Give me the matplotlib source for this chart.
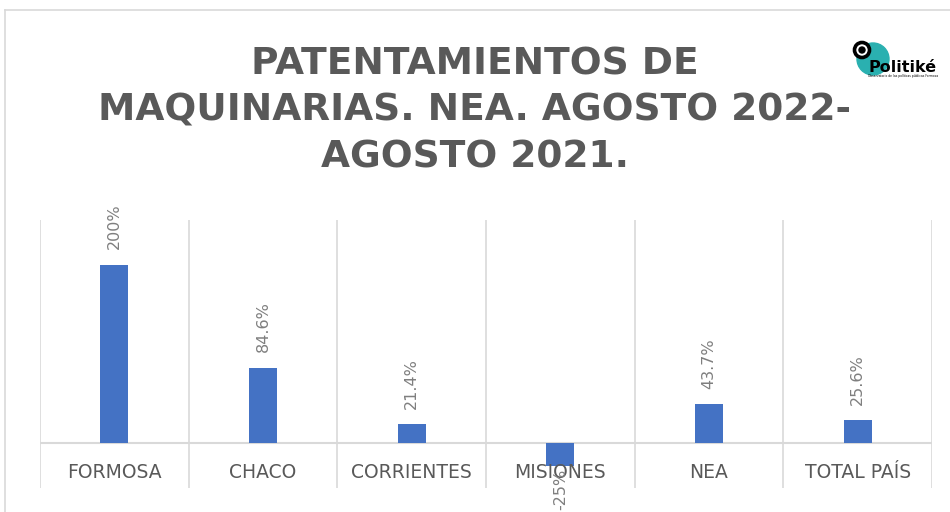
import matplotlib
matplotlib.use("Agg")
import matplotlib.pyplot as plt
from matplotlib.patches import Circle
from matplotlib.lines import Line2D

categories = ["FORMOSA", "CHACO", "CORRIENTES", "MISIONES", "NEA", "TOTAL PAÍS"]
values = [200, 84.6, 21.4, -25, 43.7, 25.6]
value_labels = ["200%", "84.6%", "21.4%", "-25%", "43.7%", "25.6%"]
title = "PATENTAMIENTOS DE\nMAQUINARIAS. NEA. AGOSTO 2022-\nAGOSTO 2021."

W, H = 950, 512
fig = plt.figure(figsize=(W / 100, H / 100), dpi=100)
plt.rcParams['font.family'] = ['DejaVu Sans']

# chart border (partially visible)
fig.add_artist(Line2D([5 / W, 1], [1 - 10 / H, 1 - 10 / H], color="#d9d9d9", lw=1.2))
fig.add_artist(Line2D([5 / W, 5 / W], [0, 1 - 10 / H], color="#d9d9d9", lw=1.2))

ax = fig.add_axes([40 / W, 1 - 488 / H, (932 - 40) / W, (488 - 220) / H])
x = range(len(categories))
ax.bar(x, values, width=0.19, color="#4472c4", zorder=3)
ax.set_xlim(-0.5, len(categories) - 0.5)
ax.set_ylim(-50, 250)
for b in [i - 0.5 for i in range(len(categories) + 1)]:
    ax.axvline(b, color="#d9d9d9", lw=1.2, zorder=1)
ax.axhline(0, color="#d9d9d9", lw=1.5, zorder=2)
for s in ax.spines.values():
    s.set_visible(False)
ax.set_xticks([])
ax.set_yticks([])

for i, (v, lab) in enumerate(zip(values, value_labels)):
    if v >= 0:
        ax.annotate(lab, (i, v), xytext=(0, 11), textcoords="offset points",
                    rotation=90, ha="center", va="bottom", fontsize=11.5, color="#7f7f7f")
    else:
        ax.annotate(lab, (i, v), xytext=(0, -2), textcoords="offset points",
                    rotation=90, ha="center", va="top", fontsize=11.5, color="#7f7f7f", zorder=5)
    ax.annotate(categories[i], (i, 0), xytext=(0, -21), textcoords="offset points",
                ha="center", va="center", fontsize=13.5, color="#595959", zorder=4)

fig.text(475 / W, 1 - 111 / H, title, ha="center", va="center", fontsize=27,
         fontweight="bold", color="#595959", linespacing=1.38)

# logo
lg = fig.add_axes([845 / W, 1 - 84 / H, 92 / W, 54 / H])
lg.set_xlim(0, 92)
lg.set_ylim(54, 0)
lg.axis("off")
lg.add_patch(Circle((28, 29), 16, color="#2ab0b0"))
lg.add_patch(Circle((17, 20), 7.5, facecolor="white", edgecolor="black", lw=2.6))
lg.add_patch(Circle((17, 20), 3, color="black"))
lg.text(23, 42, "Politiké", fontsize=11.5, fontweight="bold", color="black", ha="left", va="baseline")
lg.text(23, 47, "Observatorio de las políticas públicas Formosa", fontsize=2.2, color="black",
        ha="left", va="baseline")

fig.savefig("out.png", dpi=100)
